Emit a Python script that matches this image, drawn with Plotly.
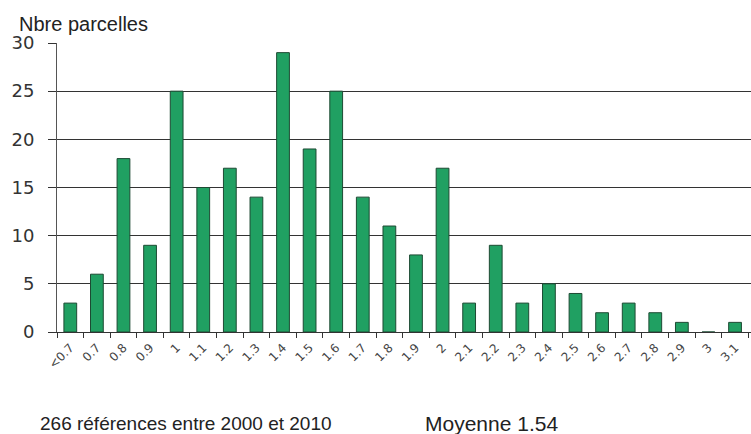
import plotly.graph_objects as go

categories = ["<0.7", "0.7", "0.8", "0.9", "1", "1.1", "1.2", "1.3", "1.4", "1.5",
              "1.6", "1.7", "1.8", "1.9", "2", "2.1", "2.2", "2.3", "2.4", "2.5",
              "2.6", "2.7", "2.8", "2.9", "3", "3.1"]
counts = [3, 6, 18, 9, 25, 15, 17, 14, 29, 19,
          25, 14, 11, 8, 17, 3, 9, 3, 5, 4,
          2, 3, 2, 1, 0, 1]
y_ticks = [0, 5, 10, 15, 20, 25, 30]

L, R, T, B = 57, 0, 43, 102
W, H = 751, 434

fig = go.Figure()
fig.add_trace(go.Bar(
    x=categories, y=counts,
    marker=dict(color="#20a062", line=dict(color="#1d4a33", width=1)),
    width=0.48,
))

pw = W - L - R
ph = H - T - B
def px_to_paper(xp, yp):
    return (xp - L) / pw, (H - B - yp) / ph

ax0, ay0 = px_to_paper(17, 24)
ax1, ay1 = px_to_paper(38, 423)
ax2, ay2 = px_to_paper(423, 423)

fig.update_layout(
    width=W, height=H,
    margin=dict(l=L, r=R, t=T, b=B, autoexpand=False),
    paper_bgcolor="white", plot_bgcolor="white",
    font=dict(family="Liberation Sans, Arial, sans-serif", color="#222"),
    showlegend=False,
    xaxis=dict(
        type="category",
        range=[-0.5, 25.6],
        tickangle=-45,
        tickfont=dict(family="DejaVu Sans, Verdana, sans-serif", size=12, color="#444"),
        showline=True, linecolor="#333", linewidth=1,
        ticks="outside", ticklen=5, tickcolor="#333",
        tickson="boundaries",
        ticklabelstandoff=3,
        showgrid=False,
        automargin=False,
    ),
    yaxis=dict(
        range=[0, 30],
        tickvals=y_ticks,
        tickfont=dict(family="DejaVu Sans, Verdana, sans-serif", size=18, color="#333"),
        showline=True, linecolor="#555", linewidth=1,
        ticks="outside", ticklen=8, tickcolor="#333",
        ticklabelstandoff=10,
        showgrid=True, gridcolor="#333", gridwidth=1,
        zeroline=False,
        automargin=False,
    ),
    annotations=[
        dict(text="Nbre parcelles", x=ax0, y=ay0, xref="paper", yref="paper",
             showarrow=False, font=dict(size=20, color="#222"),
             xanchor="left", yanchor="middle"),
        dict(text="266 références entre 2000 et 2010", x=ax1, y=ay1,
             xref="paper", yref="paper", showarrow=False,
             font=dict(size=19, color="#222"), xanchor="left", yanchor="middle"),
        dict(text="Moyenne 1.54", x=ax2, y=ay2, xref="paper", yref="paper",
             showarrow=False, font=dict(size=21, color="#222"),
             xanchor="left", yanchor="middle"),
    ],
)

fig.write_html("out.html", config={"displayModeBar": False},
               post_script="document.body.style.margin='0';")
